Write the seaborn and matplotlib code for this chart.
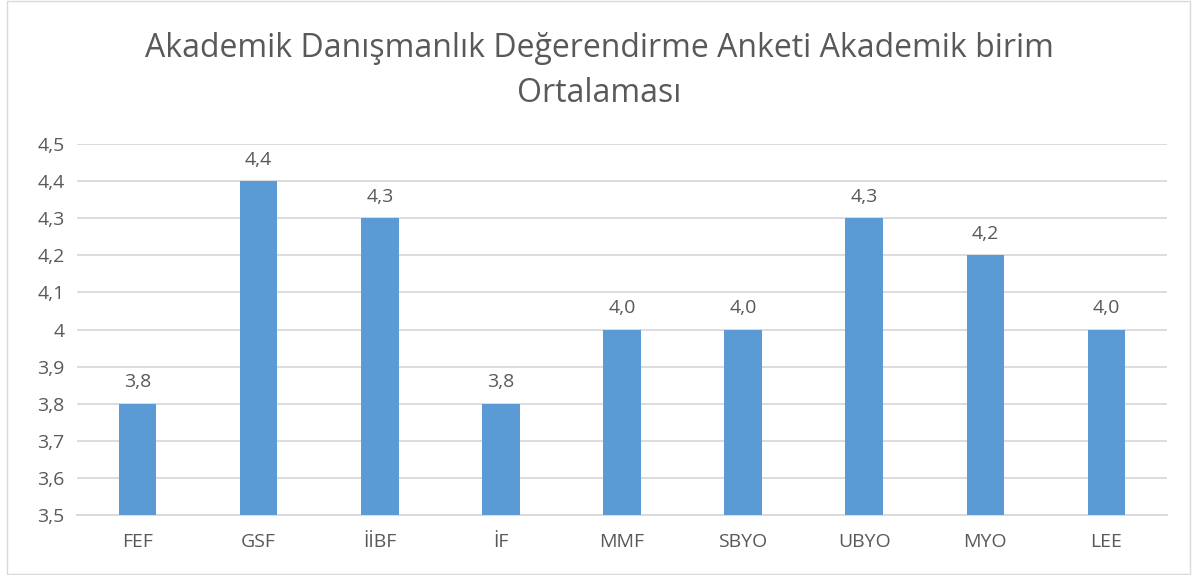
import matplotlib
matplotlib.use("Agg")
import matplotlib.pyplot as plt
import seaborn as sns
import pandas as pd
from matplotlib.patches import Rectangle

birimler = ["FEF", "GSF", "İİBF", "İF", "MMF", "SBYO", "UBYO", "MYO", "LEE"]
ortalama = [3.8, 4.4, 4.3, 3.8, 4.0, 4.0, 4.3, 4.2, 4.0]
y_ticks = [3.5, 3.6, 3.7, 3.8, 3.9, 4.0, 4.1, 4.2, 4.3, 4.4, 4.5]
y_tick_labels = ["3,5", "3,6", "3,7", "3,8", "3,9", "4", "4,1", "4,2", "4,3", "4,4", "4,5"]
baslik = "Akademik Danışmanlık Değerendirme Anketi Akademik birim\nOrtalaması"

df = pd.DataFrame({"birim": birimler, "ortalama": ortalama})

sns.set_style("white")
plt.rcParams["font.family"] = ["Open Sans", "DejaVu Sans"]
text_color = "#595959"

fig = plt.figure(figsize=(11.92, 5.75), dpi=100)
ax = fig.add_axes([0.0646, 0.1043, 0.9144, 0.6453])

sns.barplot(data=df, x="birim", y="ortalama", color="#5B9BD5", width=0.31,
            saturation=1, linewidth=0, ax=ax, zorder=3)

ax.set_ylim(3.5, 4.5)
ax.set_yticks(y_ticks)
ax.set_yticklabels(y_tick_labels)
ax.grid(axis="y", color="#D9D9D9", linewidth=1.3, zorder=0)
ax.set_xlabel("")
ax.set_ylabel("")
for s in ["top", "right", "left"]:
    ax.spines[s].set_visible(False)
ax.spines["bottom"].set_color("#D9D9D9")
ax.spines["bottom"].set_linewidth(1.3)
ax.tick_params(axis="both", length=0, labelsize=14, colors=text_color)
ax.tick_params(axis="x", pad=13)
ax.tick_params(axis="y", pad=9)

for c in ax.containers:
    ax.bar_label(c, labels=[f"{v:.1f}".replace(".", ",") for v in c.datavalues],
                 padding=9, fontsize=14, color=text_color)

fig.text(0.503, 0.945, baslik, ha="center", va="top", fontsize=23,
         color=text_color, linespacing=1.5)

fig.patches.append(Rectangle((0.006, 0.002), 0.992, 0.996, transform=fig.transFigure,
                             fill=False, edgecolor="#D9D9D9", linewidth=1))

fig.savefig("out.png", dpi=100)
